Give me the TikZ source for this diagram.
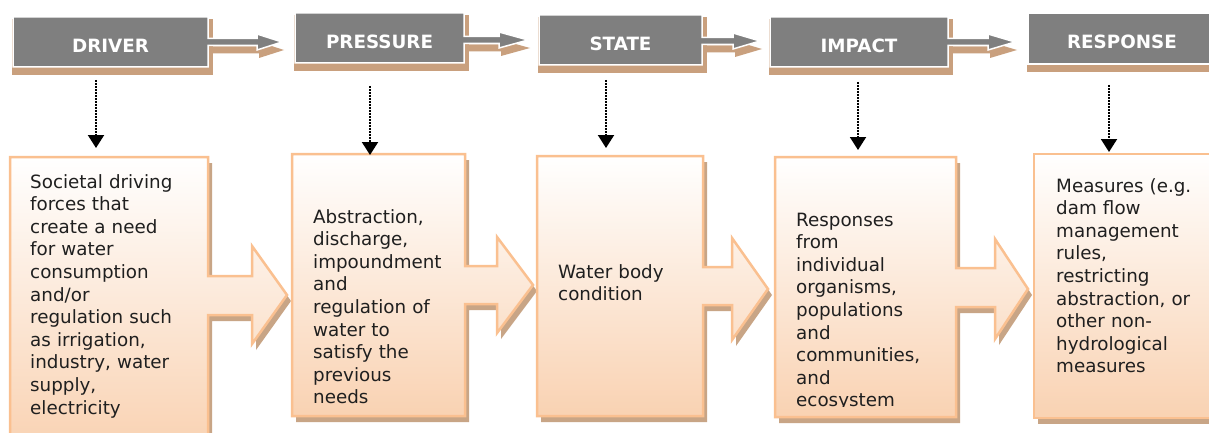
\documentclass[tikz,border=0pt]{standalone}
\usepackage{fontspec}
\setmainfont{DejaVu Sans}
\usetikzlibrary{arrows.meta}
\definecolor{hgray}{HTML}{7F7F7F}
\definecolor{shd}{HTML}{C9A07E}
\definecolor{bord}{HTML}{FAC090}
\definecolor{pch}{HTML}{F9D2B2}
\definecolor{bshd}{HTML}{C8A586}
\newcommand\hdr[9]{%
 \fill[shd] (#1-1,#2+2) rectangle (#3+5,#4+8);
 \fill[shd] (#3+2,#5+4.5) -- (#6+2,#5+4.5) -- (#6+2,#5) -- (#7+2,#5+8) -- (#6+2,#5+16) -- (#6+2,#5+11.5) -- (#3+2,#5+11.5) -- cycle;
 \draw[hdrshape] (#1,#2) -- (#3,#2) -- (#3,#5-3.5) -- (#6,#5-3.5) -- (#6,#5-8) -- (#7,#5) -- (#6,#5+8) -- (#6,#5+3.5) -- (#3,#5+3.5) -- (#3,#4) -- (#1,#4) -- cycle;
 \node[hdrtext] (#8) at ({(#1+#3)/2},#2+36) {#9};
}
\begin{document}
\begin{tikzpicture}[x=1pt,y=-1pt,
 hdrshape/.style={fill=hgray, draw=white, line width=1.5pt, line join=miter},
 hdrtext/.style={font=\fontsize{18.3}{22}\selectfont\bfseries, text=white, anchor=base, inner sep=0pt},
 card/.style={top color=white, bottom color=pch, draw=bord, line width=2.5pt, line join=miter},
 cardshadow/.style={fill=bshd},
 body/.style={font=\fontsize{18.3}{22.6}\selectfont, text=black!88, align=left, text width=200pt, inner sep=0pt, anchor=base west},
 link/.style={line width=2pt, dash pattern=on 1.6pt off 1.4pt, -{Triangle[width=16pt,length=13pt]}}
]
\useasboundingbox (0,0) rectangle (1209,433);
\clip (0,0) rectangle (1209,433);
\fill[white] (0,0) rectangle (1209,433);

% header row
\hdr{13}{17}{208}{67}{42}{257}{282}{hdrA}{DRIVER}
\hdr{295}{13}{464}{63}{40}{499}{528}{hdrB}{PRESSURE}
\hdr{539}{15}{702}{65}{41}{733}{760}{hdrC}{STATE}
\hdr{770}{17}{948}{67}{42}{988}{1015}{hdrD}{IMPACT}
\fill[shd] (1027,15) rectangle (1220,72);
\draw[hdrshape] (1028,13) rectangle (1220,64);
\node[hdrtext] (hdrE) at (1122,49) {RESPONSE};

% cards: shadows
\begin{scope}[shift={(4,6)}]
\fill[bshd] (10,157) -- (208,157) -- (208,276) -- (252,276) -- (252,246) -- (287,295) -- (252,344) -- (252,315) -- (208,315) -- (208,450) -- (10,450) -- cycle;
\fill[bshd] (292,154) -- (465,154) -- (465,266) -- (497,266) -- (497,237) -- (533,285) -- (497,333) -- (497,304) -- (465,304) -- (465,416) -- (292,416) -- cycle;
\fill[bshd] (537,156) -- (703,156) -- (703,267) -- (732,267) -- (732,238) -- (768,289) -- (732,340) -- (732,305) -- (703,305) -- (703,416) -- (537,416) -- cycle;
\fill[bshd] (775,157) -- (956,157) -- (956,268) -- (995,268) -- (995,239) -- (1028,289) -- (995,339) -- (995,307) -- (956,307) -- (956,417) -- (775,417) -- cycle;
\fill[bshd] (1034,154) rectangle (1220,418);
\end{scope}
% cards
\path[card] (10,157) -- (208,157) -- (208,276) -- (252,276) -- (252,246) -- (287,295) -- (252,344) -- (252,315) -- (208,315) -- (208,450) -- (10,450) -- cycle;
\path[card] (292,154) -- (465,154) -- (465,266) -- (497,266) -- (497,237) -- (533,285) -- (497,333) -- (497,304) -- (465,304) -- (465,416) -- (292,416) -- cycle;
\path[card] (537,156) -- (703,156) -- (703,267) -- (732,267) -- (732,238) -- (768,289) -- (732,340) -- (732,305) -- (703,305) -- (703,416) -- (537,416) -- cycle;
\path[card] (775,157) -- (956,157) -- (956,268) -- (995,268) -- (995,239) -- (1028,289) -- (995,339) -- (995,307) -- (956,307) -- (956,417) -- (775,417) -- cycle;
\path[card] (1034,154) rectangle (1220,418);

% card texts
\node[body] (txA) at (30,188) {Societal driving\\forces that\\create a need\\for water\\consumption\\and/or\\regulation such\\as irrigation,\\industry, water\\supply,\\electricity};
\node[body] (txB) at (313,223) {Abstraction,\\discharge,\\impoundment\\and\\regulation of\\water to\\satisfy the\\previous\\needs};
\node[body] (txC) at (558,278) {Water body\\condition};
\begin{scope}
\clip (775,157) rectangle (956,406);
\node[body] (txD) at (796,226) {Responses\\from\\individual\\organisms,\\populations\\and\\communities,\\and\\ecosystem};
\end{scope}
\node[body] (txE) at (1056,192) {Measures (e.g.\\dam flow\\management\\rules,\\restricting\\abstraction, or\\other non-\\hydrological\\measures};

% dotted links
\coordinate (lA1) at (96,80);   \coordinate (lA2) at (96,148);
\coordinate (lB1) at (370,86);  \coordinate (lB2) at (370,155);
\coordinate (lC1) at (606,80);  \coordinate (lC2) at (606,148);
\coordinate (lD1) at (858,82);  \coordinate (lD2) at (858,150);
\coordinate (lE1) at (1109,85); \coordinate (lE2) at (1109,152);
\draw[link] (lA1) -- (lA2);
\draw[link] (lB1) -- (lB2);
\draw[link] (lC1) -- (lC2);
\draw[link] (lD1) -- (lD2);
\draw[link] (lE1) -- (lE2);
\end{tikzpicture}
\end{document}
